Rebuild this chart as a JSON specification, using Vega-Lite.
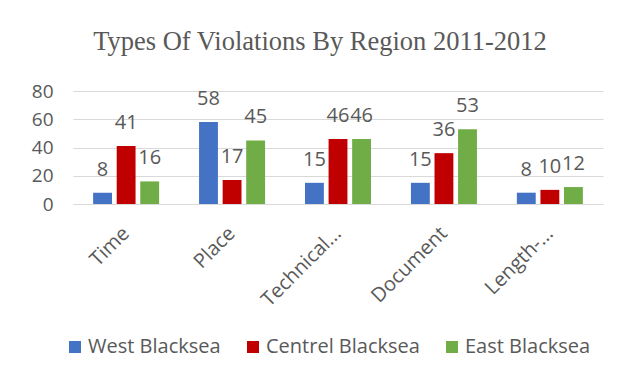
{
  "$schema": "https://vega.github.io/schema/vega-lite/v6.json",
  "autosize": "none",
  "width": 530,
  "height": 113,
  "padding": {"left": 73, "top": 91, "right": 26, "bottom": 174},
  "background": "white",
  "title": {
    "text": "Types Of Violations By Region 2011-2012",
    "font": "Liberation Serif",
    "fontSize": 26.5,
    "fontWeight": "normal",
    "color": "#595959",
    "anchor": "middle",
    "frame": "group",
    "baseline": "alphabetic",
    "offset": 6,
    "dx": -18
  },
  "data": {
    "values": [
      {"type": "Time", "region": "West Blacksea", "count": 8},
      {"type": "Time", "region": "Centrel Blacksea", "count": 41},
      {"type": "Time", "region": "East Blacksea", "count": 16},
      {"type": "Place", "region": "West Blacksea", "count": 58},
      {"type": "Place", "region": "Centrel Blacksea", "count": 17},
      {"type": "Place", "region": "East Blacksea", "count": 45},
      {"type": "Technical...", "region": "West Blacksea", "count": 15},
      {"type": "Technical...", "region": "Centrel Blacksea", "count": 46},
      {"type": "Technical...", "region": "East Blacksea", "count": 46},
      {"type": "Document", "region": "West Blacksea", "count": 15},
      {"type": "Document", "region": "Centrel Blacksea", "count": 36},
      {"type": "Document", "region": "East Blacksea", "count": 53},
      {"type": "Length-...", "region": "West Blacksea", "count": 8},
      {"type": "Length-...", "region": "Centrel Blacksea", "count": 10},
      {"type": "Length-...", "region": "East Blacksea", "count": 12}
    ]
  },
  "encoding": {
    "x": {
      "field": "type",
      "type": "nominal",
      "sort": null,
      "title": null,
      "scale": {"paddingInner": 0.377, "paddingOuter": 0.19},
      "axis": {
        "labelAngle": -45,
        "labelAlign": "right",
        "labelBaseline": "middle",
        "labelFont": "Open Sans",
        "labelFontSize": 20,
        "labelColor": "#595959",
        "labelPadding": 26,
        "ticks": false,
        "tickSize": 0,
        "domainColor": "#d9d9d9",
        "domainWidth": 1,
        "grid": false
      }
    },
    "xOffset": {
      "field": "region",
      "type": "nominal",
      "sort": ["West Blacksea", "Centrel Blacksea", "East Blacksea"],
      "scale": {"paddingInner": 0.2, "paddingOuter": 0}
    },
    "y": {
      "field": "count",
      "type": "quantitative",
      "title": null,
      "scale": {"domain": [0, 80], "nice": false},
      "axis": {
        "values": [0, 20, 40, 60, 80],
        "labelFont": "Open Sans",
        "labelFontSize": 19,
        "labelColor": "#595959",
        "labelPadding": 20,
        "ticks": false,
        "tickSize": 0,
        "domain": false,
        "gridColor": "#d9d9d9",
        "gridWidth": 1
      }
    }
  },
  "layer": [
    {
      "mark": {"type": "bar"},
      "encoding": {
        "color": {
          "field": "region",
          "type": "nominal",
          "sort": ["West Blacksea", "Centrel Blacksea", "East Blacksea"],
          "scale": {
            "domain": ["West Blacksea", "Centrel Blacksea", "East Blacksea"],
            "range": ["#4472C4", "#C00000", "#70AD47"]
          },
          "legend": {
            "title": null,
            "orient": "none",
            "direction": "horizontal",
            "legendX": -8,
            "legendY": 246,
            "symbolType": "square",
            "symbolSize": 144,
            "symbolStrokeWidth": 0,
            "labelFont": "Open Sans",
            "labelFontSize": 20,
            "labelColor": "#595959",
            "labelOffset": 3,
            "columnPadding": 22,
            "labelLimit": 300
          }
        }
      }
    },
    {
      "mark": {
        "type": "text",
        "font": "Open Sans",
        "fontSize": 20,
        "color": "#595959",
        "baseline": "alphabetic",
        "dy": -17
      },
      "encoding": {
        "text": {"field": "count", "type": "quantitative"}
      }
    }
  ],
  "config": {
    "view": {"stroke": null}
  }
}
